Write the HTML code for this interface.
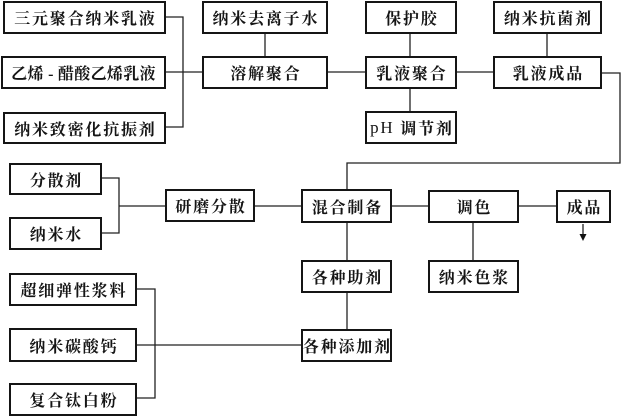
<!DOCTYPE html>
<html><head><meta charset="utf-8">
<style>
html,body{margin:0;padding:0;background:#fff;}
body{width:621px;height:416px;position:relative;overflow:hidden;}
svg{position:absolute;left:0;top:0;}
.b{position:absolute;box-sizing:border-box;border:2px solid #151515;background:#fff;display:flex;align-items:center;justify-content:center;
font-family:"Liberation Serif","Noto Serif CJK SC",serif;font-weight:700;font-size:16px;color:#151515;letter-spacing:1.8px;padding-left:1.8px;white-space:nowrap;}
</style></head><body>
<svg width="621" height="416" viewBox="0 0 621 416">
<g stroke="#222" stroke-width="1.3" fill="none">
<path d="M166 17H183V127H166"/>
<path d="M166 72H202"/>
<path d="M265 33V56"/>
<path d="M328 72H365"/>
<path d="M410 33V56M410 88V112"/>
<path d="M457 72H493"/>
<path d="M547 33V56"/>
<path d="M602 73H620V163H347V190"/>
<path d="M102 178H119V233H102"/>
<path d="M119 206H165"/>
<path d="M255 206H301"/>
<path d="M392 206H428"/>
<path d="M519 206H556"/>
<path d="M347 223V260"/>
<path d="M473 223V260"/>
<path d="M347 292V329"/>
<path d="M137 289H155V398H137"/>
<path d="M137 345H301"/>
<path d="M583 224V235"/>
</g>
<path d="M579.5 234L586.5 234L583 241Z" fill="#111"/>
</svg>

<div class="b" style="left:3px;top:1px;width:163px;height:33px;">三元聚合纳米乳液</div>
<div class="b" style="left:1px;top:56px;width:165px;height:33px;letter-spacing:0.3px;padding-left:0;">乙烯 - 醋酸乙烯乳液</div>
<div class="b" style="left:3px;top:112px;width:163px;height:32px;">纳米致密化抗振剂</div>

<div class="b" style="left:202px;top:1px;width:126px;height:33px;">纳米去离子水</div>
<div class="b" style="left:202px;top:56px;width:126px;height:33px;">溶解聚合</div>

<div class="b" style="left:365px;top:1px;width:92px;height:33px;">保护胶</div>
<div class="b" style="left:365px;top:56px;width:92px;height:33px;">乳液聚合</div>
<div class="b" style="left:365px;top:111px;width:92px;height:33px;"><span style="font-weight:400;font-size:17px;">pH</span>&nbsp;调节剂</div>

<div class="b" style="left:493px;top:1px;width:109px;height:33px;">纳米抗菌剂</div>
<div class="b" style="left:493px;top:56px;width:109px;height:33px;">乳液成品</div>

<div class="b" style="left:9px;top:163px;width:93px;height:32px;">分散剂</div>
<div class="b" style="left:9px;top:217px;width:93px;height:33px;">纳米水</div>
<div class="b" style="left:165px;top:189px;width:90px;height:33px;">研磨分散</div>

<div class="b" style="left:301px;top:189px;width:91px;height:34px;">混合制备</div>
<div class="b" style="left:428px;top:190px;width:91px;height:33px;">调色</div>
<div class="b" style="left:556px;top:190px;width:55px;height:33px;">成品</div>

<div class="b" style="left:301px;top:260px;width:91px;height:33px;">各种助剂</div>
<div class="b" style="left:428px;top:260px;width:91px;height:33px;">纳米色浆</div>

<div class="b" style="left:9px;top:273px;width:128px;height:33px;">超细弹性浆料</div>
<div class="b" style="left:9px;top:328px;width:128px;height:34px;">纳米碳酸钙</div>
<div class="b" style="left:9px;top:383px;width:128px;height:33px;">复合钛白粉</div>
<div class="b" style="left:301px;top:329px;width:91px;height:33px;">各种添加剂</div>
</body></html>
